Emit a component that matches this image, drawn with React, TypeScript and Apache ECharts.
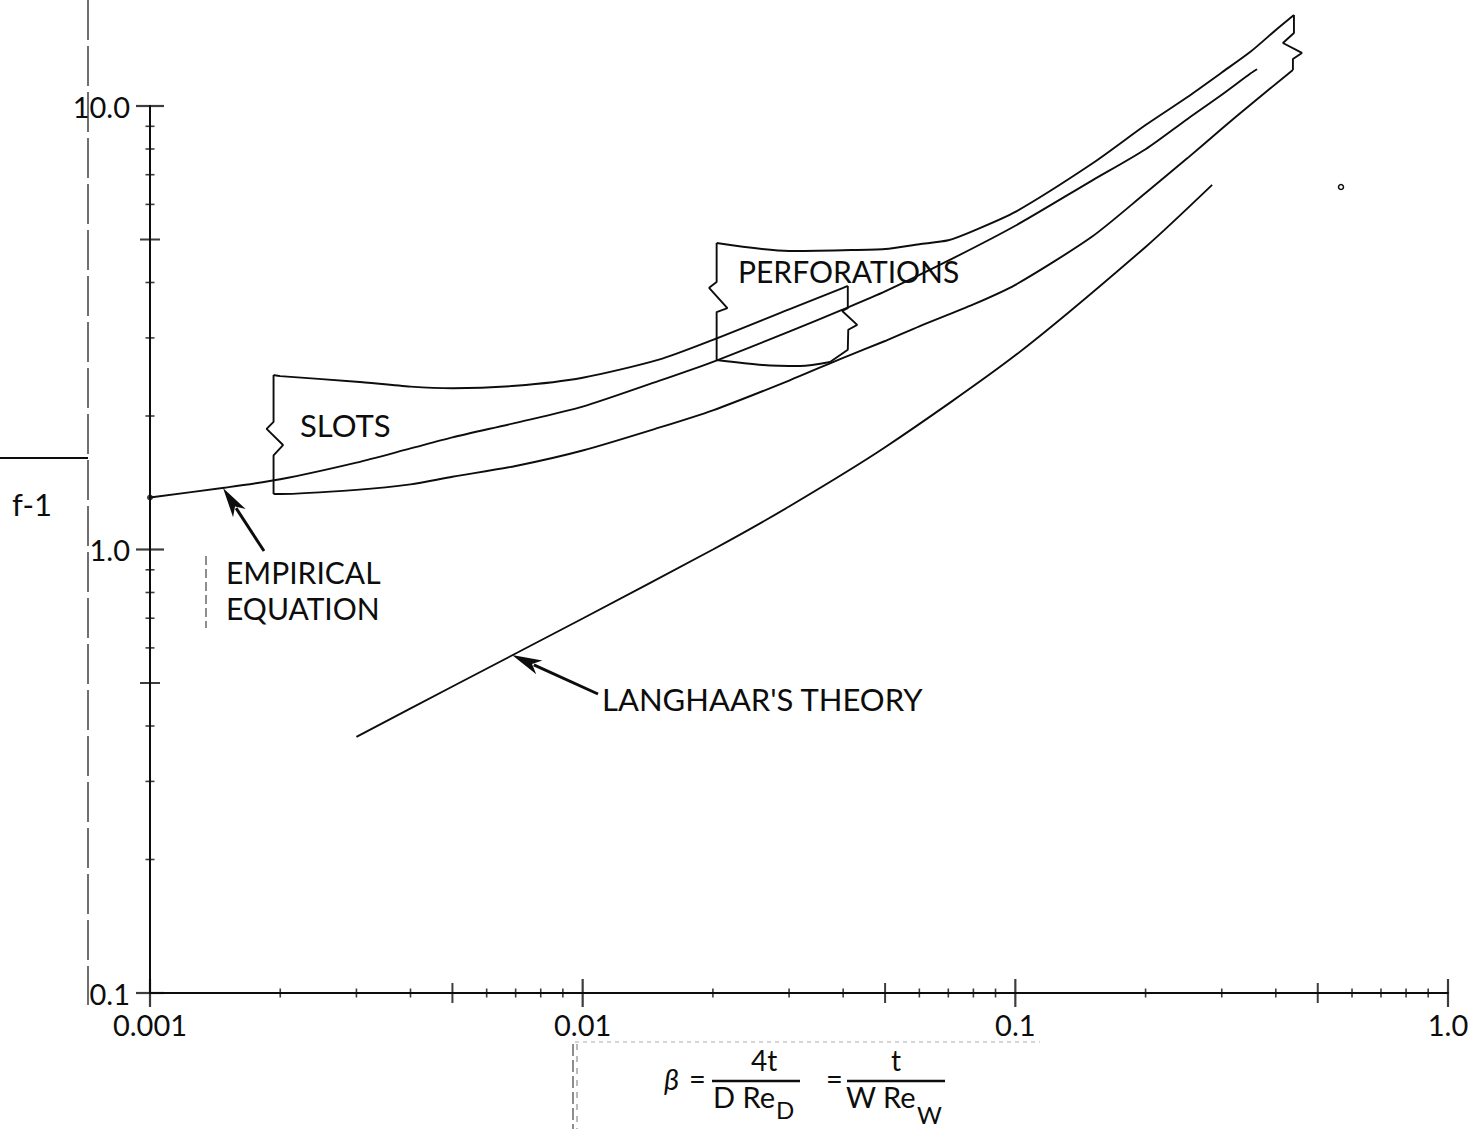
import React, { useEffect, useRef } from "react";
import * as echarts from "echarts";

// ---- axis ticks & labels ----
const xTickLabels = ["0.001", "0.01", "0.1", "1.0"];
const yTickLabels = ["0.1", "1.0", "10.0"];
const xMajorTicks = [0.001, 0.01, 0.1, 1];
const xMidTicks = [0.005, 0.05, 0.5];
const xMinorTicks = [0.002, 0.003, 0.004, 0.006, 0.007, 0.008, 0.009, 0.02, 0.03, 0.04, 0.06, 0.07, 0.08, 0.09, 0.2, 0.3, 0.4, 0.6, 0.7, 0.8, 0.9];
const yMajorTicks = [0.1, 1, 10];
const yMidTicks = [0.5, 5];
const yMinorTicks = [0.2, 0.3, 0.4, 0.6, 0.7, 0.8, 0.9, 2, 3, 4, 6, 7, 8, 9];

// ---- curves: [beta, f-1] ----
const empirical: number[][] = [
  [0.001, 1.31], [0.0015, 1.38], [0.002, 1.44], [0.003, 1.57], [0.004, 1.69], [0.005, 1.79],
  [0.007, 1.93], [0.01, 2.1], [0.015, 2.4], [0.02, 2.65], [0.03, 3.1], [0.04, 3.48], [0.05, 3.82],
  [0.07, 4.48], [0.1, 5.37], [0.15, 6.78], [0.2, 7.99], [0.25, 9.35], [0.3, 10.6], [0.35, 11.85], [0.362, 12.1],
];
const slotsUpper: number[][] = [
  [0.00193, 2.475], [0.002, 2.46], [0.003, 2.39], [0.004, 2.33], [0.005, 2.31], [0.007, 2.34],
  [0.01, 2.44], [0.015, 2.68], [0.02, 2.97], [0.03, 3.48], [0.04, 3.89], [0.041, 3.93],
];
const slotsLeftEdge: number[][] = [
  [0.00193, 2.475], [0.00193, 1.94], [0.00186, 1.87], [0.00203, 1.72], [0.00193, 1.63], [0.00193, 1.334],
];
const slotsRightEdge: number[][] = [
  [0.041, 3.93], [0.041, 3.5], [0.0398, 3.45], [0.0431, 3.21], [0.0411, 3.13], [0.041, 2.82], [0.0373, 2.647],
];
const lowerBound: number[][] = [
  [0.00193, 1.334], [0.002, 1.334], [0.003, 1.363], [0.004, 1.402], [0.005, 1.459], [0.007, 1.543],
  [0.01, 1.672], [0.015, 1.882], [0.02, 2.06], [0.03, 2.404], [0.04, 2.705], [0.05, 2.952], [0.06, 3.186],
  [0.08, 3.569], [0.1, 3.951], [0.15, 5.065], [0.2, 6.366], [0.25, 7.63], [0.3, 8.884], [0.35, 10.08], [0.438, 12.06],
];
const perfUpper: number[][] = [
  [0.0204, 4.91], [0.03, 4.71], [0.04, 4.73], [0.05, 4.76], [0.06, 4.88], [0.07, 4.98], [0.08, 5.23],
  [0.1, 5.77], [0.15, 7.4], [0.2, 9.06], [0.25, 10.48], [0.3, 11.9], [0.35, 13.27], [0.4, 14.84], [0.4405, 16.04],
];
const perfLeftEdge: number[][] = [
  [0.0204, 4.91], [0.0204, 4.01], [0.0196, 3.89], [0.0216, 3.5], [0.0204, 3.43], [0.0204, 2.675],
];
const perfBottom: number[][] = [[0.0204, 2.675], [0.0261, 2.606], [0.0318, 2.593], [0.0373, 2.647]];
const breakEdge: number[][] = [
  [0.4405, 16.04], [0.4405, 14.61], [0.4154, 13.87], [0.4596, 13.17], [0.4381, 12.76], [0.4381, 12.06],
];
const langhaar: number[][] = [
  [0.003, 0.378], [0.005, 0.491], [0.01, 0.699], [0.02, 1.0], [0.03, 1.25], [0.05, 1.7],
  [0.1, 2.74], [0.2, 4.81], [0.285, 6.64],
];

const FONT = "Lato, 'DejaVu Sans', sans-serif";
const INK = "#0d0d0d";

function measure(text: string, size: number) {
  const c = document.createElement("canvas").getContext("2d");
  if (!c) return text.length * size * 0.55;
  c.font = `${size}px Lato`;
  return c.measureText(text).width;
}

function arrow(tip: number[], tail: number[], head = 30, half = 7.5) {
  const dx = tip[0] - tail[0];
  const dy = tip[1] - tail[1];
  const L = Math.hypot(dx, dy);
  const ux = dx / L, uy = dy / L;
  const bx = tip[0] - ux * head, by = tip[1] - uy * head;
  const px = -uy * half, py = ux * half;
  return [
    { type: "line", silent: true, shape: { x1: tail[0], y1: tail[1], x2: bx + ux * 6, y2: by + uy * 6 }, style: { stroke: INK, lineWidth: 3 } },
    {
      type: "polygon", silent: true,
      shape: { points: [[tip[0], tip[1]], [bx + px, by + py], [bx + ux * 8, by + uy * 8], [bx - px, by - py]] },
      style: { fill: INK },
    },
  ];
}

function txt(text: string, x: number, y: number, size = 31, extra: any = {}) {
  return {
    type: "text", silent: true, x, y,
    style: { text, fontSize: size, fontFamily: FONT, fill: INK, verticalAlign: "middle", align: "left", ...extra },
  };
}

export default function App() {
  const ref = useRef<HTMLDivElement>(null);
  useEffect(() => {
    document.body.style.margin = "0";
    const chart = echarts.init(ref.current!, null, { renderer: "svg" });
    const line = (name: string, data: number[][], smooth: number | boolean = false, width = 1.9) => ({
      type: "line", name, data, symbol: "none", showSymbol: false, clip: false, smooth,
      lineStyle: { color: INK, width }, silent: true, z: 3,
    });
    const xTick = (vals: number[], h: number, w: number) => vals.map((v) => ({ value: [v, 0.1], symbolSize: [w, h] }));
    const yTick = (vals: number[], l: number, w: number) => vals.map((v) => ({ value: [0.001, v], symbolSize: [l, w] }));

    const d1 = measure("D Re", 29);
    const d2 = measure("W Re", 29);

    const graphic: any[] = [
      // scan artefacts / frame marks
      { type: "line", silent: true, shape: { x1: 88, y1: 0, x2: 88, y2: 1005 }, style: { stroke: "#333", lineWidth: 1.4, lineDash: [40, 6] } },
      { type: "line", silent: true, shape: { x1: 0, y1: 458, x2: 88, y2: 458 }, style: { stroke: INK, lineWidth: 1.8 } },
      { type: "line", silent: true, shape: { x1: 206, y1: 556, x2: 206, y2: 628 }, style: { stroke: "#444", lineWidth: 1.2, lineDash: [9, 4] } },
      { type: "line", silent: true, shape: { x1: 573, y1: 1044, x2: 573, y2: 1129 }, style: { stroke: "#444", lineWidth: 1.2, lineDash: [12, 4] } },
      { type: "line", silent: true, shape: { x1: 577, y1: 1044, x2: 577, y2: 1129 }, style: { stroke: "#777", lineWidth: 1, lineDash: [6, 6] } },
      { type: "line", silent: true, shape: { x1: 575, y1: 1042, x2: 1040, y2: 1042 }, style: { stroke: "#aaa", lineWidth: 1, lineDash: [4, 4] } },
      { type: "circle", silent: true, shape: { cx: 1341, cy: 187, r: 2.5 }, style: { stroke: INK, fill: "none", lineWidth: 1.5 } },
      // labels
      txt("SLOTS", 300, 425),
      txt("PERFORATIONS", 735, 271, 30, { backgroundColor: "#fff", padding: [0, 3] }),
      txt("EMPIRICAL", 226, 572, 30),
      txt("EQUATION", 226, 608, 30),
      txt("LANGHAAR'S THEORY", 602, 699),
      txt("f-1", 12, 504),
      ...arrow([223, 488], [264, 551]),
      ...arrow([512, 655], [598, 694]),
      // formula
      txt("β", 664, 1078, 29, { fontStyle: "italic" }),
      txt("=", 689, 1077, 29),
      txt("4t", 751, 1060, 28),
      { type: "line", silent: true, shape: { x1: 712, y1: 1081, x2: 800, y2: 1081 }, style: { stroke: INK, lineWidth: 2.4 } },
      txt("D Re", 713, 1096, 29),
      txt("D", 713 + d1 + 1, 1109, 24),
      txt("=", 826, 1077, 29),
      txt("t", 891, 1060, 28),
      { type: "line", silent: true, shape: { x1: 847, y1: 1081, x2: 945, y2: 1081 }, style: { stroke: INK, lineWidth: 2.4 } },
      txt("W Re", 846, 1096, 29),
      txt("W", 846 + d2 + 1, 1114, 24),
    ];

    chart.setOption({
      animation: false,
      backgroundColor: "#fff",
      grid: { left: 150, right: 25, top: 106, bottom: 136, containLabel: false, outerBoundsMode: "none" },
      xAxis: {
        type: "log", logBase: 10, min: 0.001, max: 1,
        axisLine: { show: true, lineStyle: { color: INK, width: 2 } },
        axisTick: { show: false }, minorTick: { show: false }, splitLine: { show: false },
        axisLabel: {
          margin: 17, fontSize: 29, fontFamily: FONT, color: INK, showMinLabel: true, showMaxLabel: true,
          formatter: (v: number) => xTickLabels[Math.round(Math.log10(v)) + 3] ?? "",
        },
      },
      yAxis: {
        type: "log", logBase: 10, min: 0.1, max: 10,
        axisLine: { show: true, lineStyle: { color: INK, width: 2 } },
        axisTick: { show: false }, minorTick: { show: false }, splitLine: { show: false },
        axisLabel: {
          margin: 20, fontSize: 29, fontFamily: FONT, color: INK, showMinLabel: true, showMaxLabel: true,
          formatter: (v: number) => yTickLabels[Math.round(Math.log10(v)) + 1] ?? "",
        },
      },
      series: [
        line("Empirical equation", empirical, 0.25),
        line("Slots upper", slotsUpper, 0.25),
        line("Slots left edge", slotsLeftEdge),
        line("Slots right edge", slotsRightEdge),
        line("Lower bound", lowerBound, 0.25),
        line("Perforations upper", perfUpper, 0.25),
        line("Perforations left edge", perfLeftEdge),
        line("Perforations bottom", perfBottom, 0.3),
        line("Break edge", breakEdge),
        line("Langhaar's theory", langhaar, 0.25),
        {
          type: "scatter", name: "start", data: [empirical[0]], symbol: "circle", symbolSize: 6,
          itemStyle: { color: INK }, clip: false, silent: true, z: 4,
        },
        {
          type: "scatter", name: "x ticks", symbol: "rect", clip: false, silent: true, z: 5,
          itemStyle: { color: INK },
          data: [...xTick(xMajorTicks, 28, 2.2), ...xTick(xMidTicks, 20, 2), ...xTick(xMinorTicks, 9, 1.6)],
        },
        {
          type: "scatter", name: "y ticks", symbol: "rect", clip: false, silent: true, z: 5,
          itemStyle: { color: INK },
          data: [...yTick(yMajorTicks, 28, 2.2), ...yTick(yMidTicks, 20, 2), ...yTick(yMinorTicks, 9, 1.6)],
        },
      ],
      graphic,
    });
    return () => chart.dispose();
  }, []);
  return <div ref={ref} style={{ width: 1473, height: 1129, position: "absolute", left: 0, top: 0 }} />;
}
